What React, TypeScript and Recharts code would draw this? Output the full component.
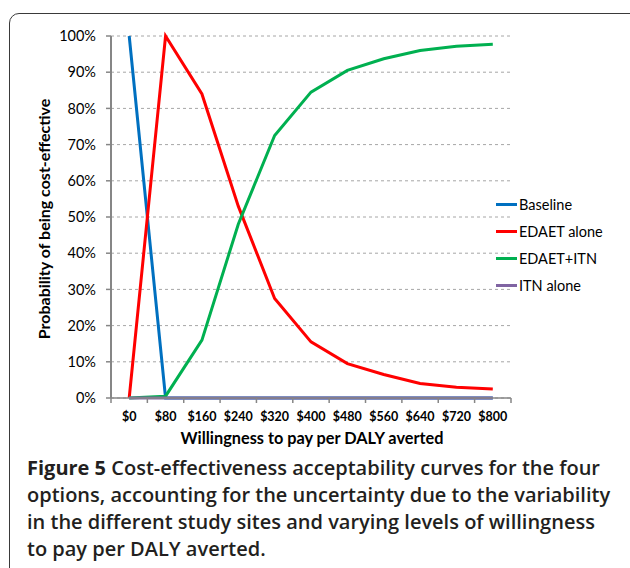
import React from "react";
import { LineChart, Line, XAxis, YAxis, CartesianGrid } from "recharts";

const wtp = ["$0", "$80", "$160", "$240", "$320", "$400", "$480", "$560", "$640", "$720", "$800"];
const baseline = [100, 0, 0, 0, 0, 0, 0, 0, 0, 0, 0];
const edaetAlone = [0, 100, 84, 53, 27.5, 15.5, 9.5, 6.5, 4, 3, 2.5];
const edaetItn = [0, 0.5, 16, 48, 72.5, 84.5, 90.5, 93.7, 96, 97.2, 97.7];
const itnAlone = [0, 0, 0, 0, 0, 0, 0, 0, 0, 0, 0];
const yTicks = [0, 10, 20, 30, 40, 50, 60, 70, 80, 90, 100];

const data = wtp.map((w, i) => ({
  wtp: w,
  baseline: baseline[i],
  edaetAlone: edaetAlone[i],
  edaetItn: edaetItn[i],
  itnAlone: itnAlone[i],
}));

const series = [
  { key: "baseline", name: "Baseline", color: "#0070c0" },
  { key: "edaetAlone", name: "EDAET alone", color: "#ff0000" },
  { key: "edaetItn", name: "EDAET+ITN", color: "#00b050" },
  { key: "itnAlone", name: "ITN alone", color: "#8064a2" },
];

const FONT = "Lato, 'Liberation Sans', sans-serif";
const HALF = 18.2;

function XTick(props: any) {
  const { x, y, payload, index } = props;
  const last = index === wtp.length - 1;
  return (
    <g>
      <line x1={x - HALF} x2={x - HALF} y1={y} y2={y + 5} stroke="#868686" strokeWidth={1.5} />
      {last && <line x1={x + HALF} x2={x + HALF} y1={y} y2={y + 5} stroke="#868686" strokeWidth={1.5} />}
      <text x={x} y={y + 23} textAnchor="middle" fontSize={12.5} fontWeight={700} fill="#000" fontFamily={FONT}>
        {payload.value}
      </text>
    </g>
  );
}

export default function App() {
  return (
    <div style={{ position: "absolute", left: 0, top: 0, width: 630, height: 568, overflow: "hidden", background: "#fff" }}>
      <div
        style={{
          position: "absolute",
          left: 9,
          top: 13,
          width: 640,
          height: 700,
          border: "1.5px solid #3a3a3a",
          borderTopLeftRadius: 10,
          boxSizing: "border-box",
        }}
      />
      <div style={{ position: "absolute", left: 0, top: 0 }}>
        <LineChart width={630} height={460} data={data} margin={{ top: 36, right: 119, left: 0, bottom: 32 }}>
          <CartesianGrid vertical={false} stroke="#a6a6a6" strokeDasharray="3 3" />
          <XAxis
            dataKey="wtp"
            padding={{ left: HALF, right: HALF }}
            tickLine={false}
            tickSize={0}
            tickMargin={0}
            axisLine={{ stroke: "#868686", strokeWidth: 1.5 }}
            tick={<XTick />}
            interval={0}
            height={30}
          />
          <YAxis
            width={111}
            domain={[0, 100]}
            ticks={yTicks}
            tickFormatter={(v) => `${v}%`}
            tickSize={5}
            tickMargin={10}
            axisLine={{ stroke: "#868686", strokeWidth: 2 }}
            tickLine={{ stroke: "#868686", strokeWidth: 1.5 }}
            tick={{ fontSize: 14.5, fill: "#000", fontFamily: FONT }}
          />
          {series.map((s) => (
            <Line
              key={s.key}
              dataKey={s.key}
              name={s.name}
              stroke={s.color}
              strokeWidth={3}
              dot={false}
              type="linear"
              isAnimationActive={false}
            />
          ))}
        </LineChart>
      </div>
      <div style={{ position: "absolute", left: 496, top: 191, fontFamily: FONT, fontSize: 14.5, color: "#000" }}>
        {series.map((s) => (
          <div key={s.key} style={{ display: "flex", alignItems: "center", height: 27 }}>
            <span style={{ display: "inline-block", width: 21, height: 3, background: s.color, marginRight: 2 }} />
            <span>{s.name}</span>
          </div>
        ))}
      </div>
      <div
        style={{
          position: "absolute",
          left: 43,
          top: 219,
          transform: "translate(-50%, -50%) rotate(-90deg)",
          whiteSpace: "nowrap",
          fontFamily: FONT,
          fontWeight: 700,
          fontSize: 16,
        }}
      >
        Probability of being cost-effective
      </div>
      <div
        style={{
          position: "absolute",
          left: 312,
          top: 437,
          transform: "translate(-50%, -50%)",
          whiteSpace: "nowrap",
          fontFamily: FONT,
          fontWeight: 700,
          fontSize: 16.3,
        }}
      >
        Willingness to pay per DALY averted
      </div>
      <div
        style={{
          position: "absolute",
          left: 27,
          top: 454,
          whiteSpace: "nowrap",
          fontFamily: "'Open Sans', sans-serif",
          fontWeight: 600,
          fontSize: 20,
          lineHeight: "27px",
          color: "#231f20",
        }}
      >
        <b style={{ fontWeight: 700 }}>Figure 5</b> Cost-effectiveness acceptability curves for the four
        <br />
        options, accounting for the uncertainty due to the variability
        <br />
        in the different study sites and varying levels of willingness
        <br />
        to pay per DALY averted.
      </div>
    </div>
  );
}
